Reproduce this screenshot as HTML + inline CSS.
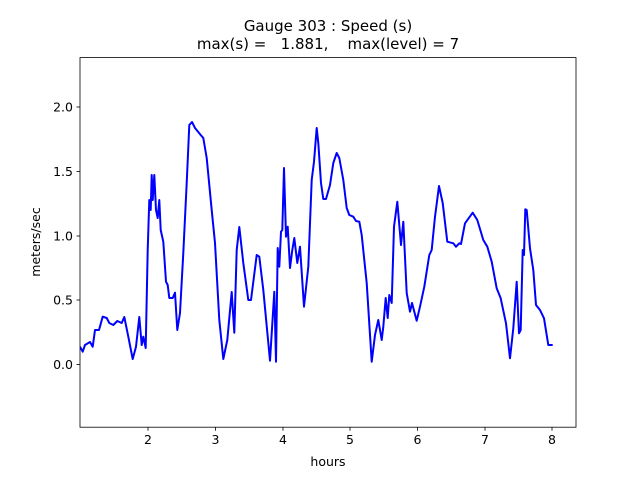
<!DOCTYPE html>
<html><head><meta charset="utf-8"><style>
body{margin:0;background:#fff;}
svg text{font-family:"DejaVu Sans","Liberation Sans",sans-serif;fill:#000;}
</style></head><body>
<svg width="640" height="480" viewBox="0 0 640 480" xmlns="http://www.w3.org/2000/svg">
<rect width="640" height="480" fill="#fff"/>
<clipPath id="c"><rect x="80" y="57.6" width="496" height="369.6"/></clipPath>
<polyline clip-path="url(#c)" fill="none" stroke="#0000ff" stroke-width="2" stroke-linejoin="round" points="
80,346.7 82.7,351.7 85,345 90,342 92.7,346.7 95,330 99,330 102.7,316.7 106.7,318 109.3,323 113.3,325 117.3,321 121.7,323 124.3,317 128.3,336.7 132.7,359 136,346.7 139.3,317 141.7,345 143.3,336.7 145.7,348 147.7,250 149.3,200 150.7,210 151.7,175 152.7,200 154.3,175 156,210 157.7,218 159.3,200 160.7,230 163.3,241.7 166,281.7 167.7,285 169.3,298 172.7,298 175,292.7 177.3,330 180,313 183.3,253 186.7,183 189.3,125 192,122 195,128 200.7,135 203.3,138 206.7,158 211.7,210 215,243 219.3,320 223.3,359 227.3,340 231.7,292 234.3,332.7 236.7,250 239.3,227 243.3,263 248.3,300 251,300 256.7,255 259.3,256.7 263.3,290 270,360.7 274.3,291.7 276,361.7 277.7,248 279.3,266.7 281,231.7 282.3,230 284,168 286,236.7 287.7,226.7 290,268 292.3,250 294.3,238 297.3,263 300,246.7 304,306.7 308.3,266.7 311.7,180 314,161.7 316.7,128 318.3,143 321,183 323.3,199 326,199 330,185 333.3,163 336.7,153 339.3,158 343.3,180 346.7,208 349.3,215 353.3,216.7 356,221 359.3,221.7 361.7,235 366.7,283 371.7,361.7 375,335 378.3,320 381.7,340 383.3,326.7 385.7,298 387.7,318 389.3,295 391.7,303 394,226.7 397.3,201.7 401,245 403.3,221.7 406.7,293 410,311.7 412,303 416.7,320.7 420,306.7 424.3,286.7 429.3,255 431.7,250 435,216.7 439,186 442.7,203 447.3,241.7 453.3,243.3 456,246.7 459.3,243.3 461,244 465,223.3 472.7,212.7 477.3,220 483.3,240 487.3,246.7 491.7,261.7 496.7,288.3 500.7,298.3 506,323.3 510,358.3 513.3,328.3 516.7,281.7 519,333.3 520.7,330 522.7,250 524,255 525.3,209.3 526.7,210 530,248.3 533.3,270 536,305 540,310 544,318.3 548.3,345 552.7,345"/>
<rect x="80" y="57.6" width="496" height="369.6" fill="none" stroke="#000" stroke-width="0.8"/>
<g stroke="#000" stroke-width="0.8">
<line x1="148" y1="427.2" x2="148" y2="430.7"/><line x1="215.5" y1="427.2" x2="215.5" y2="430.7"/><line x1="283" y1="427.2" x2="283" y2="430.7"/><line x1="350" y1="427.2" x2="350" y2="430.7"/><line x1="417.5" y1="427.2" x2="417.5" y2="430.7"/><line x1="485" y1="427.2" x2="485" y2="430.7"/><line x1="552" y1="427.2" x2="552" y2="430.7"/>
<line x1="76.5" y1="364.5" x2="80" y2="364.5"/><line x1="76.5" y1="300" x2="80" y2="300"/><line x1="76.5" y1="236" x2="80" y2="236"/><line x1="76.5" y1="171.5" x2="80" y2="171.5"/><line x1="76.5" y1="107" x2="80" y2="107"/>
</g>
<g font-size="12.5" text-anchor="middle">
<text x="148" y="444">2</text><text x="215.5" y="444">3</text><text x="283" y="444">4</text><text x="350" y="444">5</text><text x="417.5" y="444">6</text><text x="485" y="444">7</text><text x="552" y="444">8</text>
<text x="328" y="466">hours</text>
</g>
<g font-size="12.5" text-anchor="end">
<text x="73" y="369">0.0</text><text x="73" y="304.5">0.5</text><text x="73" y="240.5">1.0</text><text x="73" y="176">1.5</text><text x="73" y="111.5">2.0</text>
</g>
<text x="40" y="242" font-size="12.5" text-anchor="middle" transform="rotate(-90 40 242)">meters/sec</text>
<g font-size="15" text-anchor="middle">
<text x="328" y="31">Gauge 303 : Speed (s)</text>
<text x="328" y="49" xml:space="preserve">max(s) =   1.881,    max(level) = 7</text>
</g>
</svg>
</body></html>
